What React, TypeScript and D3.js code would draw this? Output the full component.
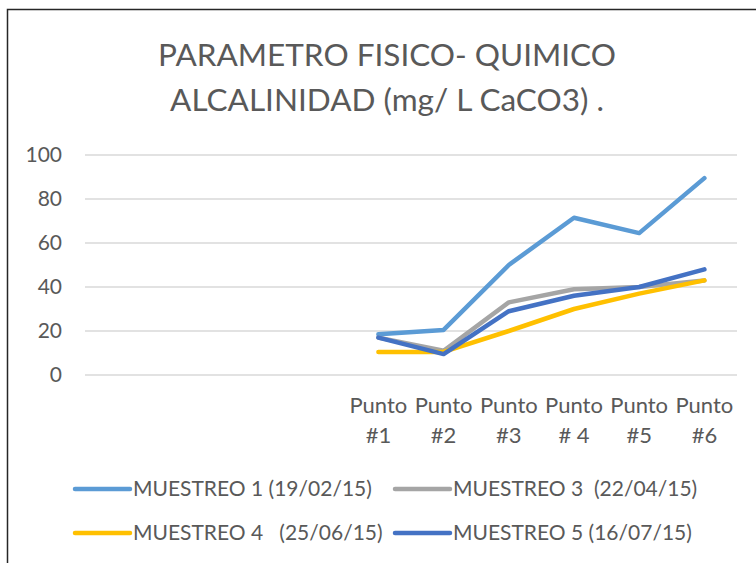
import React, { useEffect, useRef } from "react";
import * as d3 from "d3";

// categorias del eje x (las cuatro primeras vacias, como en el original)
const categories = ["", "", "", "", "Punto|#1", "Punto|#2", "Punto|#3", "Punto|# 4", "Punto|#5", "Punto|#6"];
const yTicks = [0, 20, 40, 60, 80, 100];

const muestreo1 = [null, null, null, null, 18.5, 20.5, 50, 71.5, 64.5, 89.5];
const muestreo3 = [null, null, null, null, 17, 11, 33, 39, 40, 43];
const muestreo4 = [null, null, null, null, 10.5, 10.5, 20, 30, 37, 43];
const muestreo5 = [null, null, null, null, 17, 9.5, 29, 36, 40, 48];

const seriesNames = [
  "MUESTREO 1 (19/02/15)",
  "MUESTREO 3  (22/04/15)",
  "MUESTREO 4   (25/06/15)",
  "MUESTREO 5 (16/07/15)",
];
const seriesColors = ["#5B9BD5", "#A5A5A5", "#FFC000", "#4472C4"];

const FONT = "Lato, 'Open Sans', sans-serif";

export default function App() {
  const ref = useRef<SVGSVGElement>(null);

  useEffect(() => {
    const svg = d3.select(ref.current);
    svg.selectAll("*").remove();

    const margin = { left: 85, right: 737, top: 155, bottom: 375 };

    const x = d3.scaleBand<number>()
      .domain(d3.range(categories.length))
      .range([margin.left, margin.right]);
    const y = d3.scaleLinear().domain([0, 100]).range([margin.bottom, margin.top]);

    // borde del area del grafico
    svg.append("rect")
      .attr("x", 7.5).attr("y", 9.5)
      .attr("width", 800).attr("height", 600)
      .attr("fill", "#fff")
      .attr("stroke", "#262626")
      .attr("stroke-width", 1.5);

    // titulo
    const title = svg.append("text")
      .attr("text-anchor", "middle")
      .attr("fill", "#595959")
      .style("font-family", FONT)
      .style("font-size", "31.5px");
    title.append("tspan").attr("x", 387).attr("y", 66).text("PARAMETRO FISICO- QUIMICO");
    title.append("tspan").attr("x", 387).attr("y", 111).text("ALCALINIDAD (mg/ L CaCO3) .");

    // lineas de cuadricula + etiquetas y
    const grid = svg.append("g");
    yTicks.forEach(t => {
      grid.append("line")
        .attr("x1", margin.left).attr("x2", margin.right)
        .attr("y1", y(t)).attr("y2", y(t))
        .attr("stroke", "#D9D9D9")
        .attr("stroke-width", 1.3);
      grid.append("text")
        .attr("x", 62).attr("y", y(t))
        .attr("dy", "0.35em")
        .attr("text-anchor", "end")
        .attr("fill", "#595959")
        .style("font-family", FONT)
        .style("font-size", "21px")
        .text(t);
    });

    // etiquetas eje x
    categories.forEach((c, i) => {
      if (!c) return;
      const parts = c.split("|");
      const cx = x(i)! + x.bandwidth() / 2;
      const lbl = svg.append("text")
        .attr("text-anchor", "middle")
        .attr("fill", "#595959")
        .style("font-family", FONT)
        .style("font-size", "22px");
      lbl.append("tspan").attr("x", cx).attr("y", 413).text(parts[0]);
      lbl.append("tspan").attr("x", cx).attr("y", 443).text(parts[1]);
    });

    const line = d3.line<number | null>()
      .defined(d => d != null)
      .x((d, i) => x(i)! + x.bandwidth() / 2)
      .y(d => y(d as number));

    [muestreo1, muestreo3, muestreo4, muestreo5].forEach((s, k) => {
      svg.append("path")
        .datum(s)
        .attr("d", line)
        .attr("fill", "none")
        .attr("stroke", seriesColors[k])
        .attr("stroke-width", 4.5)
        .attr("stroke-linecap", "round")
        .attr("stroke-linejoin", "round");
    });

    // leyenda
    const legendPos = [[75, 489], [395, 489], [75, 533], [395, 533]];
    seriesNames.forEach((name, k) => {
      const [lx, ly] = legendPos[k];
      svg.append("line")
        .attr("x1", lx).attr("x2", lx + 55)
        .attr("y1", ly).attr("y2", ly)
        .attr("stroke", seriesColors[k])
        .attr("stroke-width", 4.5)
        .attr("stroke-linecap", "round");
      svg.append("text")
        .attr("x", lx + 58).attr("y", ly)
        .attr("dy", "0.35em")
        .attr("fill", "#595959")
        .attr("xml:space", "preserve")
        .style("white-space", "pre")
        .style("font-family", FONT)
        .style("font-size", "21px")
        .text(name);
    });
  }, []);

  return (
    <svg
      ref={ref}
      width={756}
      height={563}
      style={{ position: "absolute", left: 0, top: 0, display: "block", background: "#fff" }}
    />
  );
}
